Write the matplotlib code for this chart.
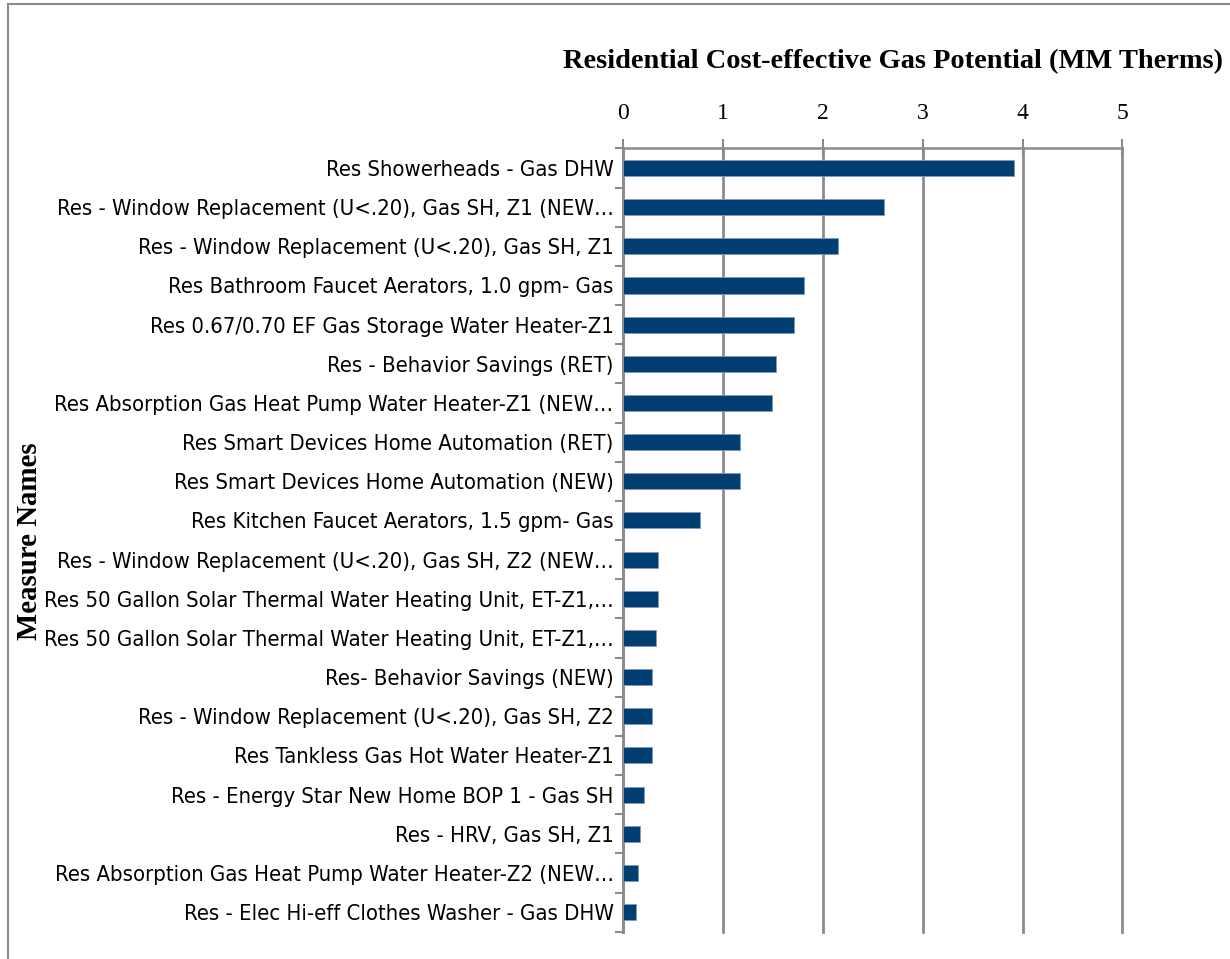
import matplotlib
matplotlib.use('Agg')
import matplotlib.pyplot as plt
import numpy as np
from matplotlib.lines import Line2D

measures = [
    'Res Showerheads - Gas DHW',
    'Res - Window Replacement (U<.20), Gas SH, Z1 (NEW\u2026',
    'Res - Window Replacement (U<.20), Gas SH, Z1',
    'Res Bathroom Faucet Aerators, 1.0 gpm- Gas',
    'Res 0.67/0.70 EF Gas Storage Water Heater-Z1',
    'Res - Behavior Savings (RET)',
    'Res Absorption Gas Heat Pump Water Heater-Z1 (NEW\u2026',
    'Res Smart Devices Home Automation (RET)',
    'Res Smart Devices Home Automation (NEW)',
    'Res Kitchen Faucet Aerators, 1.5 gpm- Gas',
    'Res - Window Replacement (U<.20), Gas SH, Z2 (NEW\u2026',
    'Res 50 Gallon Solar Thermal Water Heating Unit, ET-Z1,\u2026',
    'Res 50 Gallon Solar Thermal Water Heating Unit, ET-Z1,\u2026',
    'Res- Behavior Savings (NEW)',
    'Res - Window Replacement (U<.20), Gas SH, Z2',
    'Res Tankless Gas Hot Water Heater-Z1',
    'Res - Energy Star New Home BOP 1 - Gas SH',
    'Res - HRV, Gas SH, Z1',
    'Res Absorption Gas Heat Pump Water Heater-Z2 (NEW\u2026',
    'Res - Elec Hi-eff Clothes Washer - Gas DHW',
]
potential = [3.91, 2.61, 2.15, 1.81, 1.71, 1.53, 1.49, 1.17, 1.17, 0.77,
             0.35, 0.35, 0.33, 0.29, 0.29, 0.29, 0.21, 0.17, 0.15, 0.13]
x_ticks = [0, 1, 2, 3, 4, 5]

GRID = '#8c8c8c'
BAR = '#003f72'
W, H = 1230, 959

fig = plt.figure(figsize=(W / 100, H / 100), dpi=100)
ax = fig.add_axes([623.3 / W, 1 - 931.7 / H, (1122.3 - 623.3) / W, (931.7 - 148.4) / H])

y = np.arange(len(measures))
ax.barh(y, potential, height=0.41, color=BAR, edgecolor='#7f9bb8', linewidth=0.6, zorder=3)
ax.set_ylim(len(measures) - 0.5, -0.5)
ax.set_xlim(0, 5)

ax.xaxis.tick_top()
ax.set_xticks(x_ticks)
ax.set_xticklabels([str(t) for t in x_ticks], family='Liberation Serif', fontsize=17)
ax.tick_params(axis='x', direction='inout', length=13, width=1.5, color=GRID, pad=11)
ax.grid(axis='x', color=GRID, linewidth=2, zorder=0)
for gl in ax.get_xgridlines():
    gl.set_clip_on(False)

ax.set_yticks(y)
ax.set_yticklabels(measures, family='DejaVu Sans', fontstretch='condensed', fontsize=15.8)
ax.set_yticks(np.arange(len(measures) + 1) - 0.5, minor=True)
ax.tick_params(axis='y', which='major', length=0, pad=7)
ax.tick_params(axis='y', which='minor', direction='out', length=6, width=1.5, color=GRID)

for s in ['right', 'bottom']:
    ax.spines[s].set_visible(False)
for s in ['left', 'top']:
    ax.spines[s].set_color(GRID)
    ax.spines[s].set_linewidth(1.8)

fig.text(893 / W, 1 - 62 / H, 'Residential Cost-effective Gas Potential (MM Therms)',
         ha='center', va='center', family='Liberation Serif', fontweight='bold', fontsize=20.4)
fig.text(30 / W, 1 - 541 / H, 'Measure Names', rotation=90, ha='center', va='center',
         family='Liberation Serif', fontweight='bold', fontsize=20.8)

# outer frame (only top and left edges fall inside the image)
fig.add_artist(Line2D([8 / W, 8 / W], [0, 1 - 4 / H], color='#8a8a8a', linewidth=1.5))
fig.add_artist(Line2D([8 / W, 1], [1 - 4 / H, 1 - 4 / H], color='#8a8a8a', linewidth=1.5))

fig.savefig('out.png', dpi=100)
